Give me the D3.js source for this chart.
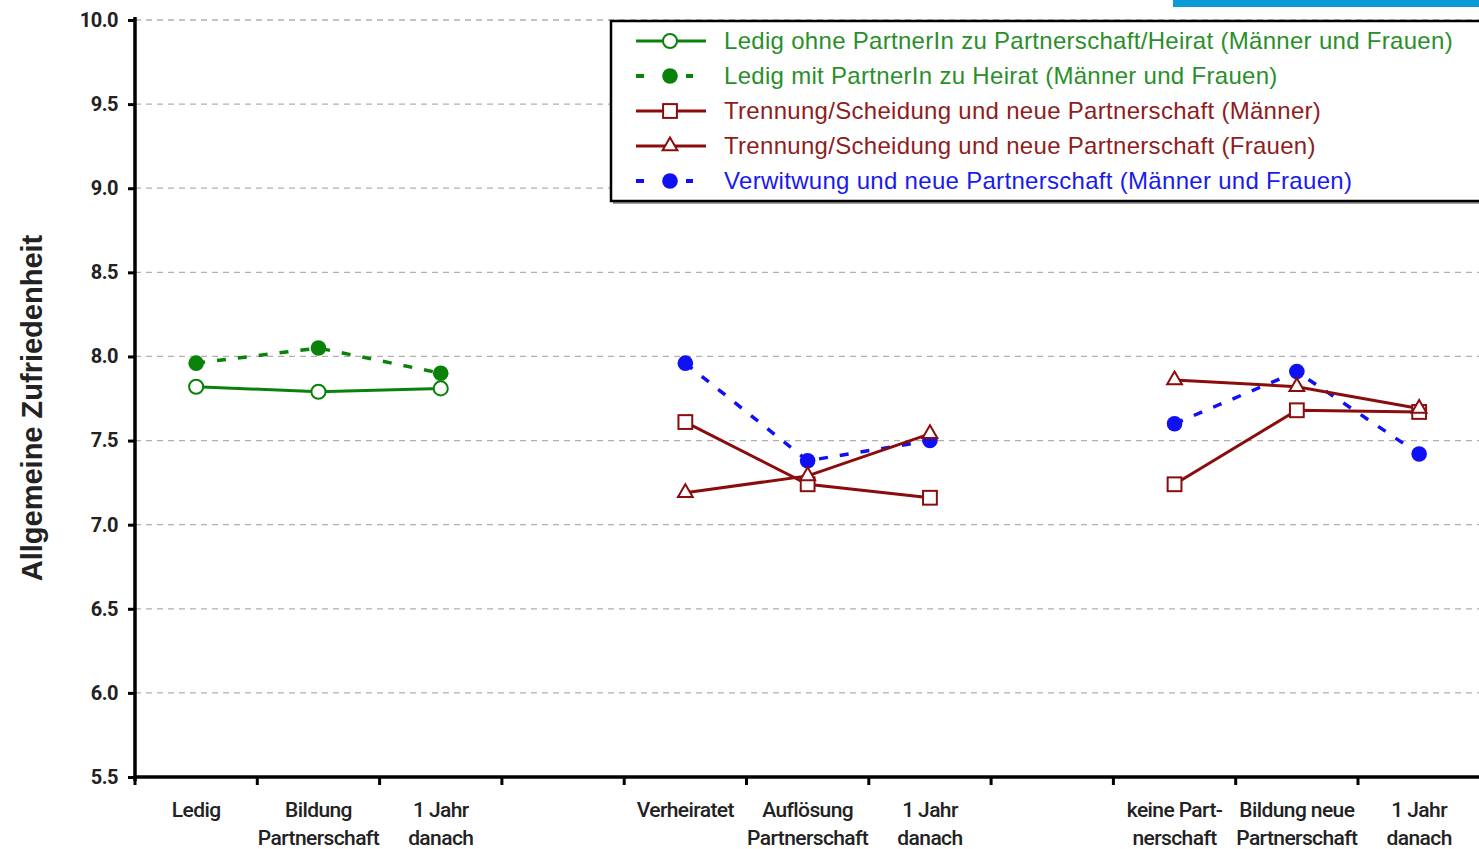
<!DOCTYPE html>
<html>
<head>
<meta charset="utf-8">
<script src="https://cdn.jsdelivr.net/npm/d3@7"></script>
<style>
  body { margin: 0; background: #fff; }
  svg { display: block; }
</style>
</head>
<body>
<div id="chart"></div>
<script>
// Data
const categories = ["c1", "c2", "c3", "gap1", "c4", "c5", "c6", "gap2", "c7", "c8", "c9"];
const catLabels = [
  ["Ledig", ""], ["Bildung", "Partnerschaft"], ["1 Jahr", "danach"], ["", ""],
  ["Verheiratet", ""], ["Auflösung", "Partnerschaft"], ["1 Jahr", "danach"], ["", ""],
  ["keine Part-", "nerschaft"], ["Bildung neue", "Partnerschaft"], ["1 Jahr", "danach"]
];
const yTicks = [5.5, 6.0, 6.5, 7.0, 7.5, 8.0, 8.5, 9.0, 9.5, 10.0];

const ledigOhne = [7.82, 7.79, 7.81, null, null, null, null, null, null, null, null];
const ledigMit = [7.96, 8.05, 7.90, null, null, null, null, null, null, null, null];
const trennungMaenner = [null, null, null, null, 7.61, 7.24, 7.16, null, 7.24, 7.68, 7.67];
const trennungFrauen = [null, null, null, null, 7.19, 7.29, 7.54, null, 7.86, 7.82, 7.69];
const verwitwung = [null, null, null, null, 7.96, 7.38, 7.50, null, 7.60, 7.91, 7.42];

const seriesNames = [
  "Ledig ohne PartnerIn zu Partnerschaft/Heirat (Männer und Frauen)",
  "Ledig mit PartnerIn zu Heirat (Männer und Frauen)",
  "Trennung/Scheidung und neue Partnerschaft (Männer)",
  "Trennung/Scheidung und neue Partnerschaft (Frauen)",
  "Verwitwung und neue Partnerschaft (Männer und Frauen)"
];

const green = "#0a820a", red = "#8b0c0c", blue = "#1010f5";

const series = [
  {name: seriesNames[0], values: ledigOhne, color: green, text: "#2a8f2a", dash: null, marker: "circleOpen", order: 1},
  {name: seriesNames[1], values: ledigMit, color: green, text: "#2a8f2a", dash: "9,12", marker: "circle", order: 0},
  {name: seriesNames[2], values: trennungMaenner, color: red, text: "#8e1d1d", dash: null, marker: "square", order: 2},
  {name: seriesNames[3], values: trennungFrauen, color: red, text: "#8e1d1d", dash: null, marker: "triangle", order: 3},
  {name: seriesNames[4], values: verwitwung, color: blue, text: "#1a1aee", dash: "9,12", marker: "circle", order: -1}
];

// Dimensions
const width = 1479, height = 849;
const plotLeft = 135, plotBottom = 777, plotTop = 20;
const bandStep = 122.3;

const svg = d3.select("#chart").append("svg")
  .attr("width", width)
  .attr("height", height);

const x = d3.scaleBand()
  .domain(categories)
  .range([plotLeft, plotLeft + categories.length * bandStep]);

const y = d3.scaleLinear()
  .domain([5.5, 10])
  .range([plotBottom, plotTop]);

// top right blue bar
svg.append("rect")
  .attr("x", 1173).attr("y", 0)
  .attr("width", width - 1173).attr("height", 7)
  .attr("fill", "#0a9ad8");

// Grid lines
svg.append("g")
  .selectAll("line")
  .data(yTicks.filter(d => d > 5.5))
  .enter()
  .append("line")
  .attr("x1", plotLeft)
  .attr("x2", width)
  .attr("y1", d => y(d))
  .attr("y2", d => y(d))
  .attr("stroke", "#b0b0b0")
  .attr("stroke-width", 1.3)
  .attr("stroke-dasharray", "6,5");

// Y-axis
const yAxis = svg.append("g")
  .attr("transform", `translate(${plotLeft},0)`)
  .call(d3.axisLeft(y).tickValues(yTicks).tickFormat(d3.format(".1f")).tickSize(7).tickSizeOuter(0));
yAxis.select(".domain").attr("stroke", "#000").attr("stroke-width", 3.5)
  .attr("d", `M0,${plotTop - 3}V${plotBottom + 4}`);
yAxis.selectAll(".tick line").attr("stroke", "#000").attr("stroke-width", 3);
yAxis.selectAll(".tick text")
  .attr("x", -17)
  .style("font-family", "'Liberation Sans Narrow', 'Roboto', sans-serif")
  .style("font-weight", "bold")
  .style("font-size", "20px")
  .style("letter-spacing", "-0.5px")
  .attr("fill", "#222");

// Y-axis label
svg.append("text")
  .attr("transform", "rotate(-90)")
  .attr("x", -408)
  .attr("y", 42)
  .attr("text-anchor", "middle")
  .style("font-family", "'Liberation Sans', Arial, sans-serif")
  .style("font-weight", "bold")
  .style("font-size", "29px")
  .attr("fill", "#222")
  .text("Allgemeine Zufriedenheit");

// X-axis
svg.append("line")
  .attr("x1", plotLeft).attr("x2", width)
  .attr("y1", plotBottom).attr("y2", plotBottom)
  .attr("stroke", "#000").attr("stroke-width", 3.5);

const boundaries = categories.map(c => x(c)).concat([x.range()[1]]);
svg.append("g")
  .selectAll("line")
  .data(boundaries.filter(b => b <= width))
  .enter()
  .append("line")
  .attr("x1", d => d).attr("x2", d => d)
  .attr("y1", plotBottom).attr("y2", plotBottom + 8)
  .attr("stroke", "#000").attr("stroke-width", 3);

const xLabels = svg.append("g")
  .selectAll("text")
  .data(categories)
  .enter()
  .append("text")
  .attr("x", d => x(d) + x.bandwidth() / 2)
  .attr("text-anchor", "middle")
  .style("font-family", "'Liberation Sans Narrow', 'Roboto', sans-serif")
  .style("font-weight", "500")
  .style("font-size", "21px")
  .style("letter-spacing", "-0.6px")
  .attr("fill", "#222");
xLabels.append("tspan")
  .attr("x", d => x(d) + x.bandwidth() / 2)
  .attr("y", 817)
  .text((d, i) => catLabels[i][0]);
xLabels.append("tspan")
  .attr("x", d => x(d) + x.bandwidth() / 2)
  .attr("y", 845)
  .text((d, i) => catLabels[i][1]);

// Marker drawing
function drawMarker(g, type, color, size) {
  if (type === "circle") {
    g.append("circle").attr("r", size * 0.52).attr("fill", color);
  } else if (type === "circleOpen") {
    g.append("circle").attr("r", size * 0.47).attr("fill", "#fff")
      .attr("stroke", color).attr("stroke-width", 2);
  } else if (type === "square") {
    const s = size * 0.92;
    g.append("rect").attr("x", -s / 2).attr("y", -s / 2).attr("width", s).attr("height", s)
      .attr("fill", "#fff").attr("stroke", color).attr("stroke-width", 2);
  } else if (type === "triangle") {
    g.append("path")
      .attr("d", d3.symbol().type(d3.symbolTriangle).size(size * size * 0.42)())
      .attr("transform", "translate(0,0)")
      .attr("fill", "#fff").attr("stroke", color).attr("stroke-width", 2);
  }
}

// Lines and markers
const line = d3.line()
  .defined(d => d.v !== null)
  .x(d => x(d.c) + x.bandwidth() / 2)
  .y(d => y(d.v));

const ordered = series.slice().sort((a, b) => a.order - b.order);

ordered.forEach(s => {
  const pts = categories.map((c, i) => ({c: c, v: s.values[i]}));
  svg.append("path")
    .datum(pts)
    .attr("fill", "none")
    .attr("stroke", s.color)
    .attr("stroke-width", s.dash ? 3.5 : 3)
    .attr("stroke-dasharray", s.dash)
    .attr("d", line);
});

ordered.forEach(s => {
  const pts = categories.map((c, i) => ({c: c, v: s.values[i]})).filter(d => d.v !== null);
  pts.forEach(d => {
    const g = svg.append("g")
      .attr("transform", `translate(${x(d.c) + x.bandwidth() / 2},${y(d.v)})`);
    drawMarker(g, s.marker, s.color, 15);
  });
});

// Legend
const legend = svg.append("g");
legend.append("rect")
  .attr("x", 613).attr("y", 24)
  .attr("width", width - 611).attr("height", 180)
  .attr("fill", "#999");
legend.append("rect")
  .attr("x", 611).attr("y", 21)
  .attr("width", width - 611 + 2).attr("height", 180)
  .attr("fill", "#fff")
  .attr("stroke", "#000")
  .attr("stroke-width", 2.5);

const legendItems = legend.selectAll(".legend-item")
  .data(series)
  .enter()
  .append("g")
  .attr("class", "legend-item")
  .attr("transform", (d, i) => `translate(0, ${41 + i * 35})`);

legendItems.each(function (s) {
  const g = d3.select(this);
  if (s.dash) {
    g.append("line").attr("x1", 636).attr("x2", 644).attr("y1", 0).attr("y2", 0)
      .attr("stroke", s.color).attr("stroke-width", 4);
    g.append("line").attr("x1", 686).attr("x2", 693).attr("y1", 0).attr("y2", 0)
      .attr("stroke", s.color).attr("stroke-width", 4);
  } else {
    g.append("line").attr("x1", 636).attr("x2", 706).attr("y1", 0).attr("y2", 0)
      .attr("stroke", s.color).attr("stroke-width", 3);
  }
  const m = g.append("g").attr("transform", "translate(670,0)");
  drawMarker(m, s.marker, s.color, 15);
  g.append("text")
    .attr("x", 724)
    .attr("y", 8)
    .style("font-family", "'Liberation Sans', Arial, sans-serif")
    .style("font-size", "24px")
    .style("letter-spacing", "0.3px")
    .attr("fill", s.text)
    .text(s.name);
});
</script>
</body>
</html>
